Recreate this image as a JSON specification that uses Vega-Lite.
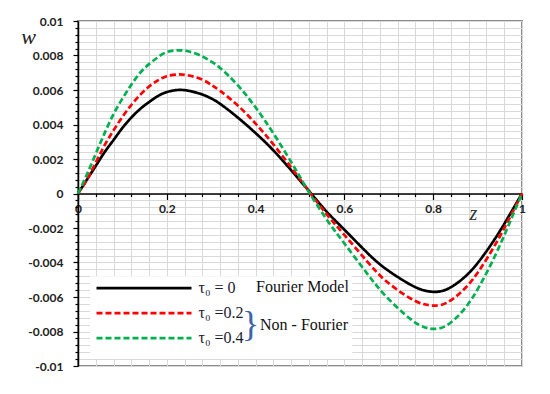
{
  "$schema": "https://vega.github.io/schema/vega-lite/v6.json",
  "width": 444,
  "height": 345,
  "autosize": {"type": "none"},
  "padding": {"left": 78, "top": 21, "right": 28, "bottom": 28},
  "background": "white",
  "config": {
    "view": {"stroke": "#8c8c8c", "strokeWidth": 2}
  },
  "resolve": {"axis": {"x": "independent", "y": "independent"}},
  "data": {
    "values": [
      {"z": 0, "w": 0, "s": "τ₀ = 0"},
      {"z": 0.02, "w": 0.0008, "s": "τ₀ = 0"},
      {"z": 0.04, "w": 0.0016, "s": "τ₀ = 0"},
      {"z": 0.06, "w": 0.0024, "s": "τ₀ = 0"},
      {"z": 0.08, "w": 0.0031, "s": "τ₀ = 0"},
      {"z": 0.1, "w": 0.0038, "s": "τ₀ = 0"},
      {"z": 0.12, "w": 0.0044, "s": "τ₀ = 0"},
      {"z": 0.14, "w": 0.0049, "s": "τ₀ = 0"},
      {"z": 0.16, "w": 0.0053, "s": "τ₀ = 0"},
      {"z": 0.18, "w": 0.00565, "s": "τ₀ = 0"},
      {"z": 0.2, "w": 0.00588, "s": "τ₀ = 0"},
      {"z": 0.225, "w": 0.006, "s": "τ₀ = 0"},
      {"z": 0.25, "w": 0.00595, "s": "τ₀ = 0"},
      {"z": 0.28, "w": 0.00574, "s": "τ₀ = 0"},
      {"z": 0.3, "w": 0.00551, "s": "τ₀ = 0"},
      {"z": 0.32, "w": 0.0052, "s": "τ₀ = 0"},
      {"z": 0.36, "w": 0.0044, "s": "τ₀ = 0"},
      {"z": 0.4, "w": 0.0035, "s": "τ₀ = 0"},
      {"z": 0.44, "w": 0.0025, "s": "τ₀ = 0"},
      {"z": 0.48, "w": 0.00135, "s": "τ₀ = 0"},
      {"z": 0.5, "w": 0.00075, "s": "τ₀ = 0"},
      {"z": 0.525, "w": 0, "s": "τ₀ = 0"},
      {"z": 0.56, "w": -0.00105, "s": "τ₀ = 0"},
      {"z": 0.6, "w": -0.0021, "s": "τ₀ = 0"},
      {"z": 0.65, "w": -0.0034, "s": "τ₀ = 0"},
      {"z": 0.695, "w": -0.0044, "s": "τ₀ = 0"},
      {"z": 0.75, "w": -0.0053, "s": "τ₀ = 0"},
      {"z": 0.78, "w": -0.00562, "s": "τ₀ = 0"},
      {"z": 0.8, "w": -0.0057, "s": "τ₀ = 0"},
      {"z": 0.83, "w": -0.00556, "s": "τ₀ = 0"},
      {"z": 0.87, "w": -0.00486, "s": "τ₀ = 0"},
      {"z": 0.905, "w": -0.00387, "s": "τ₀ = 0"},
      {"z": 0.94, "w": -0.00259, "s": "τ₀ = 0"},
      {"z": 0.97, "w": -0.00133, "s": "τ₀ = 0"},
      {"z": 1, "w": 0, "s": "τ₀ = 0"},

      {"z": 0, "w": 0, "s": "τ₀ =0.2"},
      {"z": 0.02, "w": 0.0008, "s": "τ₀ =0.2"},
      {"z": 0.04, "w": 0.0018, "s": "τ₀ =0.2"},
      {"z": 0.06, "w": 0.0028, "s": "τ₀ =0.2"},
      {"z": 0.08, "w": 0.00366, "s": "τ₀ =0.2"},
      {"z": 0.1, "w": 0.00444, "s": "τ₀ =0.2"},
      {"z": 0.12, "w": 0.00513, "s": "τ₀ =0.2"},
      {"z": 0.14, "w": 0.00572, "s": "τ₀ =0.2"},
      {"z": 0.16, "w": 0.0062, "s": "τ₀ =0.2"},
      {"z": 0.18, "w": 0.00656, "s": "τ₀ =0.2"},
      {"z": 0.2, "w": 0.0068, "s": "τ₀ =0.2"},
      {"z": 0.225, "w": 0.0069, "s": "τ₀ =0.2"},
      {"z": 0.25, "w": 0.00684, "s": "τ₀ =0.2"},
      {"z": 0.28, "w": 0.0066, "s": "τ₀ =0.2"},
      {"z": 0.3, "w": 0.0063, "s": "τ₀ =0.2"},
      {"z": 0.32, "w": 0.00595, "s": "τ₀ =0.2"},
      {"z": 0.36, "w": 0.0051, "s": "τ₀ =0.2"},
      {"z": 0.4, "w": 0.00405, "s": "τ₀ =0.2"},
      {"z": 0.44, "w": 0.00285, "s": "τ₀ =0.2"},
      {"z": 0.48, "w": 0.00152, "s": "τ₀ =0.2"},
      {"z": 0.5, "w": 0.00083, "s": "τ₀ =0.2"},
      {"z": 0.524, "w": 0, "s": "τ₀ =0.2"},
      {"z": 0.56, "w": -0.0012, "s": "τ₀ =0.2"},
      {"z": 0.6, "w": -0.0024, "s": "τ₀ =0.2"},
      {"z": 0.65, "w": -0.0039, "s": "τ₀ =0.2"},
      {"z": 0.695, "w": -0.0051, "s": "τ₀ =0.2"},
      {"z": 0.75, "w": -0.0061, "s": "τ₀ =0.2"},
      {"z": 0.78, "w": -0.00642, "s": "τ₀ =0.2"},
      {"z": 0.8, "w": -0.0065, "s": "τ₀ =0.2"},
      {"z": 0.83, "w": -0.00634, "s": "τ₀ =0.2"},
      {"z": 0.87, "w": -0.00554, "s": "τ₀ =0.2"},
      {"z": 0.905, "w": -0.00441, "s": "τ₀ =0.2"},
      {"z": 0.94, "w": -0.00295, "s": "τ₀ =0.2"},
      {"z": 0.97, "w": -0.00152, "s": "τ₀ =0.2"},
      {"z": 1, "w": 0, "s": "τ₀ =0.2"},

      {"z": 0, "w": 0, "s": "τ₀ =0.4"},
      {"z": 0.02, "w": 0.0011, "s": "τ₀ =0.4"},
      {"z": 0.04, "w": 0.0023, "s": "τ₀ =0.4"},
      {"z": 0.06, "w": 0.0035, "s": "τ₀ =0.4"},
      {"z": 0.08, "w": 0.0046, "s": "τ₀ =0.4"},
      {"z": 0.1, "w": 0.0055, "s": "τ₀ =0.4"},
      {"z": 0.12, "w": 0.0063, "s": "τ₀ =0.4"},
      {"z": 0.14, "w": 0.007, "s": "τ₀ =0.4"},
      {"z": 0.16, "w": 0.0075, "s": "τ₀ =0.4"},
      {"z": 0.18, "w": 0.0079, "s": "τ₀ =0.4"},
      {"z": 0.2, "w": 0.0082, "s": "τ₀ =0.4"},
      {"z": 0.225, "w": 0.0083, "s": "τ₀ =0.4"},
      {"z": 0.25, "w": 0.00823, "s": "τ₀ =0.4"},
      {"z": 0.28, "w": 0.00795, "s": "τ₀ =0.4"},
      {"z": 0.3, "w": 0.00765, "s": "τ₀ =0.4"},
      {"z": 0.32, "w": 0.00728, "s": "τ₀ =0.4"},
      {"z": 0.36, "w": 0.00627, "s": "τ₀ =0.4"},
      {"z": 0.4, "w": 0.00499, "s": "τ₀ =0.4"},
      {"z": 0.44, "w": 0.00349, "s": "τ₀ =0.4"},
      {"z": 0.48, "w": 0.00183, "s": "τ₀ =0.4"},
      {"z": 0.5, "w": 0.00096, "s": "τ₀ =0.4"},
      {"z": 0.522, "w": 0, "s": "τ₀ =0.4"},
      {"z": 0.56, "w": -0.0015, "s": "τ₀ =0.4"},
      {"z": 0.6, "w": -0.0029, "s": "τ₀ =0.4"},
      {"z": 0.65, "w": -0.0046, "s": "τ₀ =0.4"},
      {"z": 0.695, "w": -0.006, "s": "τ₀ =0.4"},
      {"z": 0.75, "w": -0.0073, "s": "τ₀ =0.4"},
      {"z": 0.78, "w": -0.00775, "s": "τ₀ =0.4"},
      {"z": 0.8, "w": -0.00785, "s": "τ₀ =0.4"},
      {"z": 0.83, "w": -0.00765, "s": "τ₀ =0.4"},
      {"z": 0.87, "w": -0.0067, "s": "τ₀ =0.4"},
      {"z": 0.905, "w": -0.00533, "s": "τ₀ =0.4"},
      {"z": 0.94, "w": -0.00357, "s": "τ₀ =0.4"},
      {"z": 0.97, "w": -0.00183, "s": "τ₀ =0.4"},
      {"z": 1, "w": 0, "s": "τ₀ =0.4"}
    ]
  },
  "layer": [
    {
      "mark": {"type": "line", "strokeWidth": 2.7, "interpolate": "natural"},
      "encoding": {
        "x": {
          "field": "z", "type": "quantitative",
          "scale": {"domain": [0, 1], "nice": false, "zero": false},
          "axis": {
            "orient": "bottom",
            "offset": -172.5,
            "values": [0,0.04,0.08,0.12,0.16,0.2,0.24,0.28,0.32,0.36,0.4,0.44,0.48,0.52,0.56,0.6,0.64,0.68,0.72,0.76,0.8,0.84,0.88,0.92,0.96,1],
            "labelExpr": "abs(datum.value*5 - round(datum.value*5)) < 0.001 ? format(datum.value, '~g') : ''",
            "grid": true, "gridColor": "#d9d9d9", "gridWidth": 1,
            "domainColor": "#000000", "domainWidth": 1.5,
            "tickColor": "#000000", "tickWidth": 1.2,
            "tickSize": {"condition": {"test": "abs(datum.value*5 - round(datum.value*5)) < 0.001", "value": 6}, "value": 3},
            "labelFlush": false, "labelOverlap": false,
            "labelFont": "Lato", "labelFontWeight": "bold", "labelFontSize": 12, "labelColor": "#222222",
            "labelPadding": 4,
            "title": "z", "titleFont": "Liberation Serif", "titleFontStyle": "italic", "titleFontWeight": "normal",
            "titleFontSize": 20, "titleColor": "#333333", "titleX": 395, "titleY": 20, "titleBaseline": "middle"
          }
        },
        "y": {
          "field": "w", "type": "quantitative",
          "scale": {"domain": [-0.01, 0.01], "nice": false, "zero": false},
          "axis": {
            "values": [-0.01,-0.0096,-0.0092,-0.0088,-0.0084,-0.008,-0.0076,-0.0072,-0.0068,-0.0064,-0.006,-0.0056,-0.0052,-0.0048,-0.0044,-0.004,-0.0036,-0.0032,-0.0028,-0.0024,-0.002,-0.0016,-0.0012,-0.0008,-0.0004,0,0.0004,0.0008,0.0012,0.0016,0.002,0.0024,0.0028,0.0032,0.0036,0.004,0.0044,0.0048,0.0052,0.0056,0.006,0.0064,0.0068,0.0072,0.0076,0.008,0.0084,0.0088,0.0092,0.0096,0.01],
            "labelExpr": "abs(datum.value*500 - round(datum.value*500)) < 0.001 ? replace(format(datum.value, '~g'), '−', '-') : ''",
            "grid": true, "gridColor": "#d9d9d9", "gridWidth": 1,
            "domainColor": "#000000", "domainWidth": 1.5,
            "tickColor": "#000000", "tickWidth": 1.2,
            "tickSize": {"condition": {"test": "abs(datum.value*500 - round(datum.value*500)) < 0.001", "value": 5}, "value": 3},
            "labelFlush": false, "labelOverlap": false,
            "labelFont": "Lato", "labelFontWeight": "bold", "labelFontSize": 12, "labelColor": "#222222",
            "labelPadding": 10,
            "title": "w", "titleFont": "Liberation Serif", "titleFontStyle": "italic", "titleFontWeight": "normal",
            "titleFontSize": 22, "titleColor": "#222222", "titleAngle": 0, "titleX": -50, "titleY": 15,
            "titleAlign": "center", "titleBaseline": "middle"
          }
        },
        "color": {
          "field": "s", "type": "nominal",
          "scale": {"domain": ["τ₀ = 0", "τ₀ =0.2", "τ₀ =0.4"], "range": ["#000000", "#ff0000", "#00b050"]},
          "legend": {
            "orient": "none", "legendX": 17, "legendY": 257.7, "title": null,
            "symbolType": "M-5.9375,0H5.9375", "symbolSize": 256, "symbolStrokeWidth": 2.7,
            "symbolOffset": 39.5, "labelOffset": 45, "labelFont": "Liberation Serif", "labelFontSize": 16,
            "labelColor": "#1a1a2e", "rowPadding": 7, "padding": 0, "labelLimit": 0
          }
        },
        "strokeDash": {
          "field": "s", "type": "nominal",
          "scale": {"domain": ["τ₀ = 0", "τ₀ =0.2", "τ₀ =0.4"], "range": [[1, 0], [6, 3], [6, 3]]},
          "legend": {
            "orient": "none", "legendX": 17, "legendY": 257.7, "title": null,
            "symbolType": "M-5.9375,0H5.9375", "symbolSize": 256, "symbolStrokeWidth": 2.7,
            "symbolOffset": 39.5, "labelOffset": 45, "labelFont": "Liberation Serif", "labelFontSize": 16,
            "labelColor": "#1a1a2e", "rowPadding": 7, "padding": 0, "labelLimit": 0
          }
        }
      }
    },
    {
      "data": {"values": [{}]},
      "mark": {"type": "rect", "fill": "white"},
      "encoding": {
        "x": {"datum": 0.027, "type": "quantitative", "axis": null},
        "x2": {"datum": 0.618},
        "y": {"datum": -0.0048, "type": "quantitative", "axis": null},
        "y2": {"datum": -0.0096}
      }
    },
    {
      "data": {"values": [{}]},
      "mark": {"type": "text", "text": "Fourier Model", "font": "Liberation Serif", "fontSize": 16, "align": "left", "baseline": "middle", "color": "#111111"},
      "encoding": {
        "x": {"datum": 0.401, "type": "quantitative", "axis": null},
        "y": {"datum": -0.00543, "type": "quantitative", "axis": null}
      }
    },
    {
      "data": {"values": [{}]},
      "mark": {"type": "text", "text": "Non - Fourier", "font": "Liberation Serif", "fontSize": 16, "align": "left", "baseline": "middle", "color": "#111111"},
      "encoding": {
        "x": {"datum": 0.41, "type": "quantitative", "axis": null},
        "y": {"datum": -0.00765, "type": "quantitative", "axis": null}
      }
    },
    {
      "data": {"values": [{}]},
      "mark": {"type": "text", "text": "}", "font": "Liberation Serif", "fontSize": 36, "align": "center", "baseline": "middle", "color": "#3c64a8"},
      "encoding": {
        "x": {"datum": 0.389, "type": "quantitative", "axis": null},
        "y": {"datum": -0.00765, "type": "quantitative", "axis": null}
      }
    }
  ]
}
